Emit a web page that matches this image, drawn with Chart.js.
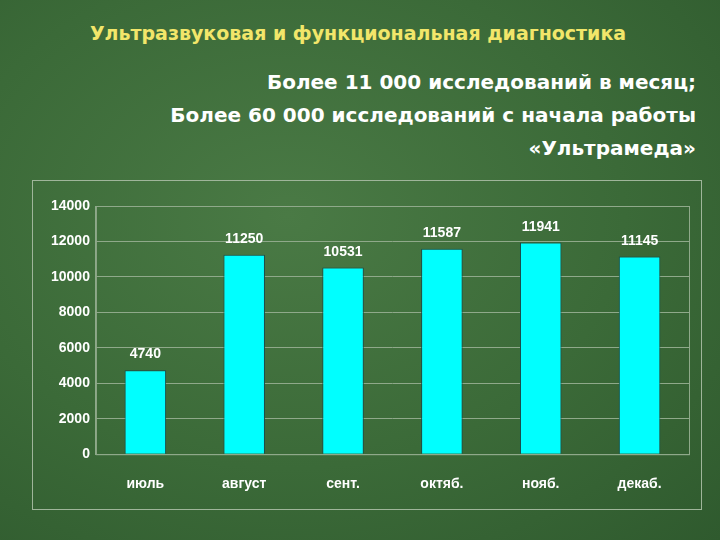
<!DOCTYPE html>
<html><head><meta charset="utf-8">
<script src="https://cdn.jsdelivr.net/npm/chart.js@4.4.0/dist/chart.umd.min.js"></script>
<style>
body{margin:0;width:720px;height:540px;overflow:hidden;font-family:"DejaVu Sans",sans-serif;
background:radial-gradient(ellipse at 40% 40%,#4a7a45 0%,#3b6a38 55%,#2f5a2e 100%);position:relative}
#t{position:absolute;top:22px;left:0;width:716px;text-align:center;color:#f2e66a;font-weight:bold;font-size:19px}
#s{position:absolute;top:66px;right:24px;text-align:right;color:#fff;font-weight:bold;font-size:20px;line-height:33px}
#box{position:absolute;left:32px;top:180px;width:668px;height:328px;border:1px solid #9fb59a}
</style></head><body>
<div id="t">Ультразвуковая и функциональная диагностика</div>
<div id="s">Более 11 000 исследований в месяц;<br>Более 60 000 исследований с начала работы<br><span style="line-height:26px">«Ультрамеда»</span></div>
<div id="box"><canvas id="c" width="668" height="328"></canvas></div>
<script>
// data
const months = ['июль','август','сент.','октяб.','нояб.','декаб.'];
const exams = [4740,11250,10531,11587,11941,11145];

const valueLabels = {
id:'valueLabels',
afterDatasetsDraw(chart){
const c = chart.ctx;
c.save();
c.fillStyle='#fff';c.font='bold 14px "Liberation Sans", Arial';c.textAlign='center';
chart.getDatasetMeta(0).data.forEach((b,i)=>{
c.fillText(exams[i], b.x, b.y-12);
});
// plot frame
const a = chart.chartArea;
c.strokeStyle='#8fa98a';c.lineWidth=1;
c.strokeRect(a.left+0.5,a.top+0.5,a.right-a.left,a.bottom-a.top);
c.restore();
}
};

const tickFont = {family:'"Liberation Sans", Arial',weight:'bold',size:14};
new Chart(document.getElementById('c'), {
type:'bar',
data:{labels:months,datasets:[{data:exams,backgroundColor:'#00ffff',borderColor:'#1a4a4a',borderWidth:1,barPercentage:0.42,categoryPercentage:1}]},
options:{
responsive:false,animation:false,
layout:{padding:{top:25,right:12,left:12,bottom:2}},
plugins:{legend:{display:false},tooltip:{enabled:false}},
scales:{
y:{min:0,max:14000,ticks:{stepSize:2000,color:'#fff',font:tickFont,padding:6,callback:v=>String(v)},
grid:{color:'#8fa98a',drawTicks:false},border:{color:'#8fa98a'}},
x:{ticks:{color:'#fff',padding:14,font:tickFont},
grid:{display:false},border:{color:'#8fa98a'}}
}
},
plugins:[valueLabels]
});
</script>
</body></html>
